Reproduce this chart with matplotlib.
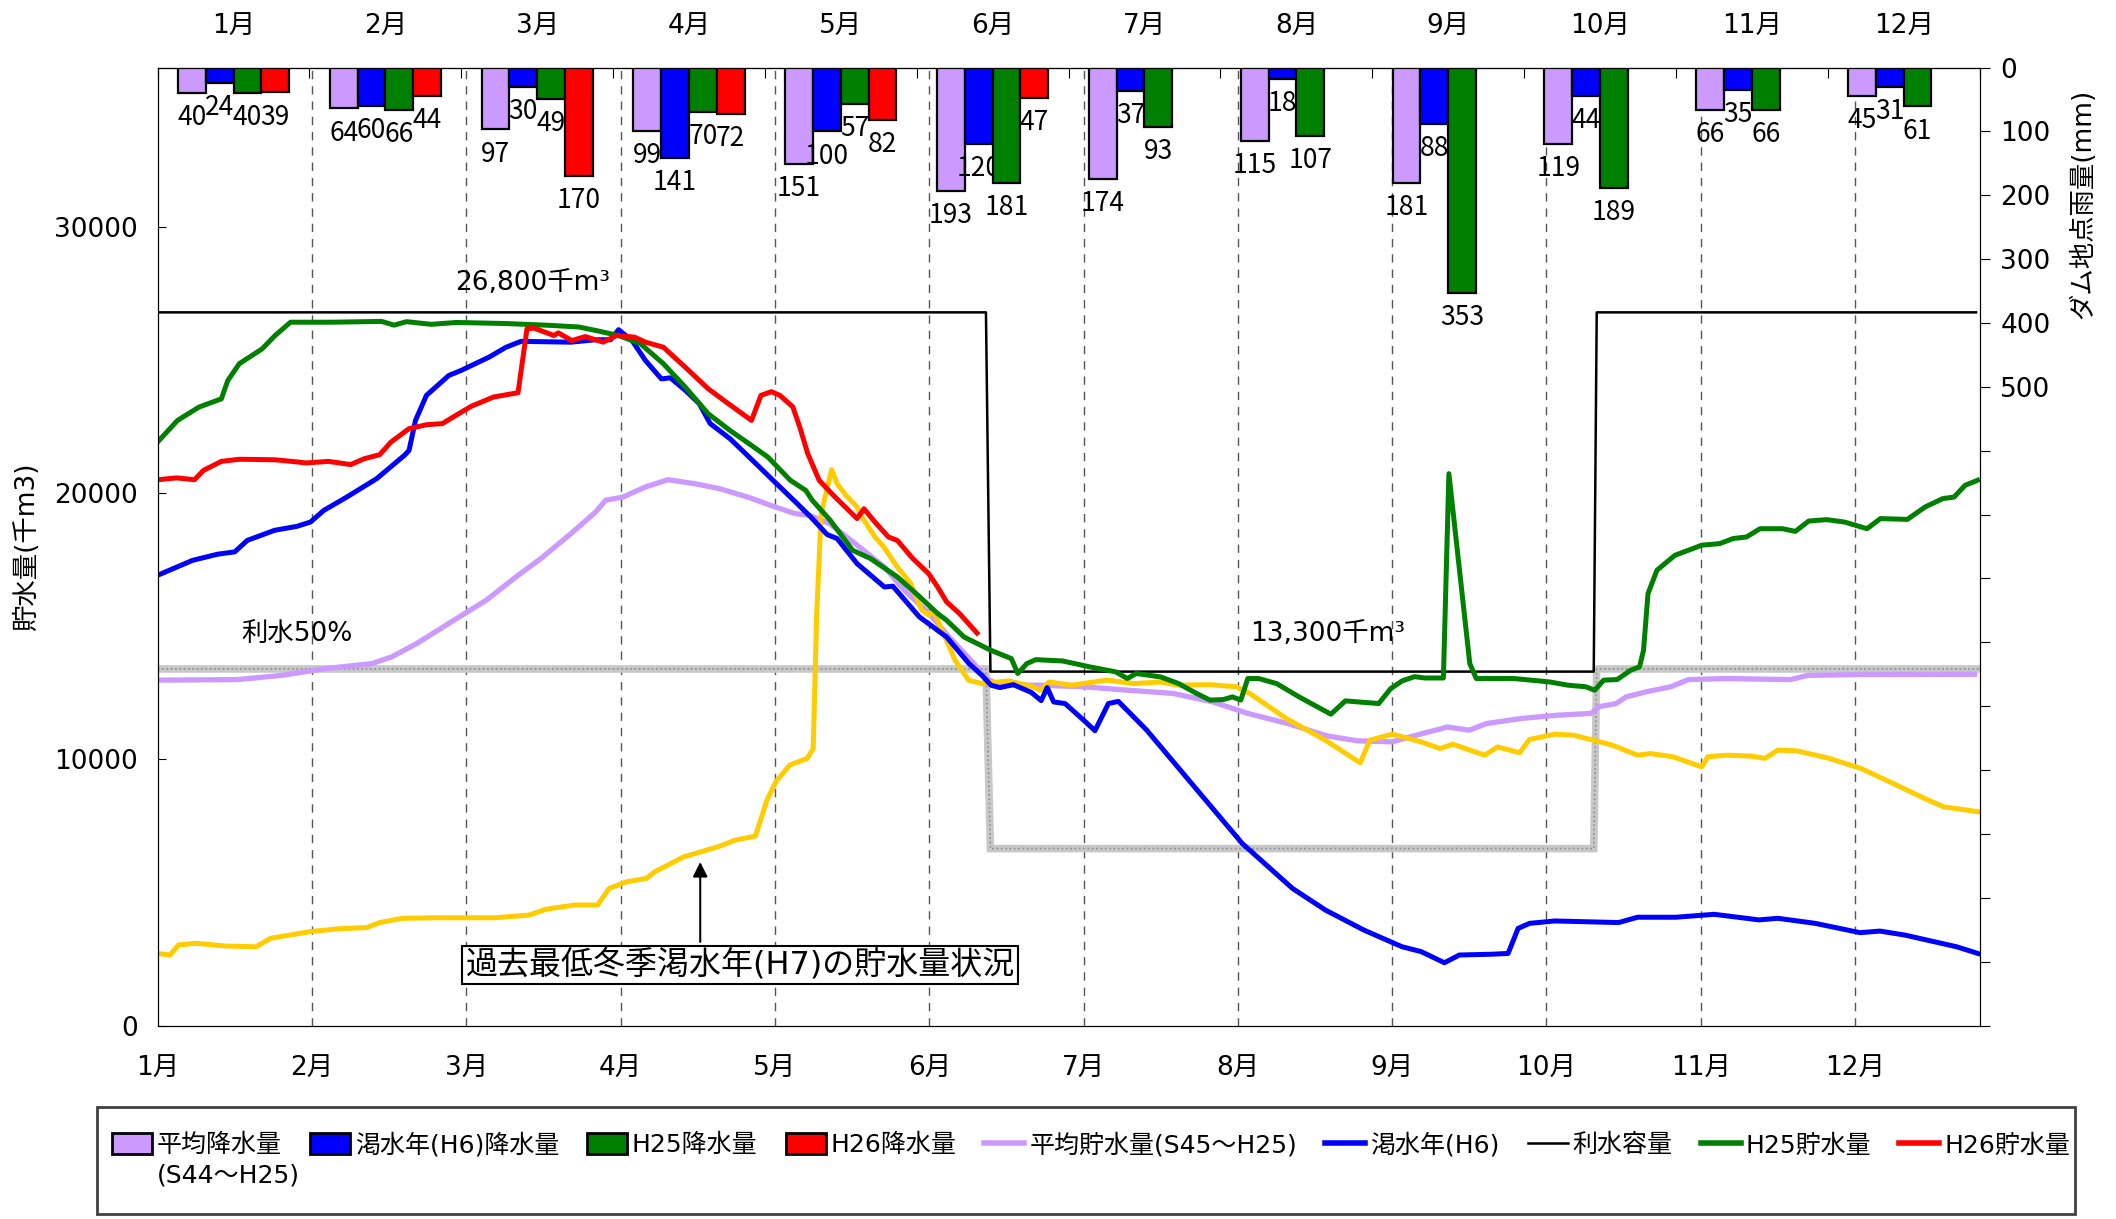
import matplotlib
matplotlib.use("Agg")
import matplotlib.pyplot as plt
from matplotlib.lines import Line2D
from matplotlib.patches import Patch, Rectangle
import numpy as np

plt.rcParams["font.family"] = ["DejaVu Sans", "Noto Sans CJK JP"]

# ---- monthly rainfall at the dam (mm) ----
months = ["1月", "2月", "3月", "4月", "5月", "6月", "7月", "8月", "9月", "10月", "11月", "12月"]
rain_avg = [40, 64, 97, 99, 151, 193, 174, 115, 181, 119, 66, 45]
rain_h6 = [24, 60, 30, 141, 100, 120, 37, 18, 88, 44, 35, 31]
rain_h25 = [40, 66, 49, 70, 57, 181, 93, 107, 353, 189, 66, 61]
rain_h26 = [39, 44, 170, 72, 82, 47]

# ---- storage (1000 m3), day of year ----
avg_days = [0, 16, 25, 34, 43, 47, 52, 59, 66, 72, 77, 83, 88, 90, 93.5, 98, 102.5, 108, 113,
            119, 124, 128, 131, 135, 141, 146, 150, 155, 159, 164, 166, 169, 177, 186, 195,
            204, 212, 219, 227, 235, 241, 248, 254, 258, 259, 263.5, 267, 274, 281, 288,
            289.5, 293, 295, 299, 304, 307.5, 315, 328, 331.5, 342, 365]
avg_vals = [12980, 13000, 13160, 13420, 13600, 13850, 14350, 15170, 15980, 16860, 17550, 18480,
            19300, 19740, 19860, 20240, 20510, 20360, 20170, 19830, 19490, 19240, 19170, 18860,
            17980, 17230, 16360, 15480, 14600, 13600, 13100, 12790, 12790, 12730, 12600, 12480,
            12160, 11730, 11350, 10880, 10700, 10660, 10970, 11160, 11220, 11100, 11350, 11540,
            11660, 11730, 11980, 12100, 12350, 12540, 12730, 13000, 13040, 13000, 13160, 13190,
            13200]

h6_days = [0, 7, 12, 15.5, 18, 23.5, 28, 30.7, 33.4, 38, 44, 49.6, 50.5, 51.8, 54, 58.5, 61,
           66.6, 70, 73, 83, 88, 91, 92.6, 95.3, 98, 101.2, 103, 106, 108.8, 111, 115, 119.5,
           124, 128.5, 131.2, 134.5, 136.5, 140.5, 146, 147.7, 153, 158.5, 163, 165.6, 167.4,
           169.2, 171.9, 175.5, 177.5, 178.7, 180, 182.3, 186, 188.3, 191, 193, 198.7, 207.7,
           217.9, 228, 234.6, 242.3, 250, 253.8, 258.5, 261.5, 268, 271.3, 273.3, 275.6, 280.7,
           293.5, 297.3, 305, 312.7, 321.7, 325.5, 333, 342, 346, 351, 361.4, 366]
h6_vals = [16920, 17480, 17710, 17800, 18230, 18610, 18760, 18920, 19360, 19860, 20550, 21430,
           21610, 22740, 23680, 24430, 24620, 25120, 25490, 25710, 25680, 25770, 25770, 26150,
           25740, 24990, 24300, 24340, 23870, 23370, 22620, 22050, 21240, 20420, 19610, 19110,
           18450, 18300, 17360, 16480, 16510, 15360, 14600, 13600, 13160, 12790, 12700, 12810,
           12520, 12210, 12700, 12160, 12100, 11480, 11080, 12100, 12180, 11100, 9100, 6840,
           5150, 4340, 3590, 2960, 2780, 2360, 2650, 2680, 2710, 3650, 3840, 3930, 3870, 4070,
           4070, 4180, 3970, 4030, 3840, 3490, 3550, 3400, 2960, 2690]

h25_days = [0, 4, 8.3, 12.8, 14.1, 16.4, 21, 23.6, 26.7, 35, 45, 47.5, 50, 55, 60, 65, 70, 79,
            84.6, 88, 92.6, 97, 101.6, 106, 110.6, 115, 119.3, 122.6, 127.1, 130.2, 131.5, 135.1,
            139.6, 143.2, 148.6, 153.1, 156.7, 158.5, 162, 167.4, 171.5, 172.8, 174.6, 176.4,
            181.8, 187.2, 192.5, 194.8, 196.6, 201.5, 205.1, 208.7, 211.4, 214.1, 215.9, 217.6,
            219, 221.2, 224.8, 229.3, 235.7, 238.6, 245.3, 247.7, 250, 252.5, 254.6, 258.3,
            259.4, 263.6, 264.9, 272.5, 279.7, 283.3, 286.9, 288.7, 290.5, 293.2, 295.9, 297.7,
            298.5, 299.4, 301.2, 304.8, 307.5, 310.2, 313.8, 316.5, 319.2, 321.9, 326.4, 329,
            331.7, 335.3, 338.9, 343.4, 346.1, 351.5, 355.1, 358.6, 360.9, 363.1, 365.6]
h25_vals = [21930, 22740, 23240, 23550, 24240, 24870, 25430, 25930, 26430, 26430, 26460, 26320,
            26450, 26350, 26420, 26400, 26380, 26310, 26250, 26120, 25930, 25620, 24870, 23990,
            22990, 22360, 21800, 21360, 20490, 20110, 19740, 18990, 17860, 17550, 16860, 16110,
            15480, 15230, 14600, 14100, 13790, 13230, 13600, 13750, 13700, 13480, 13290, 13040,
            13230, 13100, 12850, 12480, 12230, 12250, 12350, 12230, 13040, 13040, 12850, 12350,
            11700, 12200, 12100, 12660, 12950, 13110, 13060, 13060, 20740, 13600, 13040, 13040,
            12910, 12790, 12730, 12600, 12980, 13000, 13350, 13480, 14100, 16230, 17110, 17670,
            17860, 18050, 18110, 18300, 18360, 18670, 18670, 18570, 18960, 19010, 18920, 18670,
            19050, 19020, 19490, 19800, 19860, 20300, 20490]

h26_days = [0, 3.8, 7.4, 9.2, 12.8, 16.4, 23.6, 28, 29.8, 34.3, 38.8, 41.5, 44.6, 46.9, 50.5,
            54.1, 57.2, 59.4, 63, 67.5, 72.4, 74.2, 75.6, 79.6, 80.5, 83.2, 85.9, 89.5, 92.2,
            95.8, 98, 101.6, 106.1, 110.6, 114.2, 119.3, 121.2, 123.3, 125, 127.6, 129, 130.6,
            132.9, 135.4, 140.5, 141.9, 144.1, 146.8, 148.6, 151.7, 154.9, 156.7, 158.5, 161.1,
            164.6]
h26_vals = [20510, 20580, 20510, 20860, 21200, 21280, 21260, 21180, 21140, 21200, 21080, 21300,
            21450, 21930, 22430, 22580, 22620, 22870, 23270, 23620, 23780, 26180, 26210, 25930,
            26030, 25740, 25890, 25680, 25930, 25870, 25680, 25490, 24720, 23930, 23430, 22740,
            23680, 23820, 23680, 23250, 22490, 21490, 20490, 19990, 19050, 19420, 18920, 18360,
            18230, 17550, 16980, 16480, 15920, 15480, 14750]

h7_days = [0, 2.5, 4.2, 7.7, 13.5, 19.8, 22.7, 30.7, 36.5, 42, 44.6, 49.2, 56, 67.7, 74.6, 78,
           83.8, 88.4, 90.7, 94.2, 98.2, 99.9, 105.7, 112.6, 116.1, 120.1, 122.4, 124.2, 127,
           130.5, 131.7, 132.4, 133.3, 135.4, 136.5, 138.3, 140.5, 141.9, 144.1, 145.9, 148.6,
           151.3, 153.5, 154.9, 155.8, 157.6, 160.2, 162.9, 165.6, 171, 175.5, 177.3, 179.1,
           183.6, 190.7, 196.1, 201.5, 205.1, 211.4, 216.7, 219.4, 226.7, 234.6, 241.6, 243.5,
           248, 253.8, 257.6, 260.2, 266.6, 269.2, 273.6, 275.6, 280.7, 284.5, 292.2, 297.3,
           299.9, 304.4, 310.2, 311.4, 315.3, 320.4, 322.9, 325.5, 329.4, 335.8, 342.2, 348.6,
           355, 358.8, 365.9]
h7_vals = [2710, 2650, 3030, 3090, 2990, 2960, 3280, 3530, 3640, 3680, 3870, 4030, 4050, 4050,
           4150, 4370, 4530, 4530, 5150, 5400, 5530, 5780, 6340, 6720, 6970, 7120, 8470, 9160,
           9790, 10040, 10410, 15480, 19240, 20890, 20360, 19920, 19490, 18990, 18360, 17980,
           17230, 16610, 15610, 15420, 15610, 14850, 13730, 12980, 12850, 12950, 12750, 12600,
           12910, 12790, 12980, 12850, 12910, 12790, 12810, 12730, 12480, 11540, 10720, 9870,
           10720, 10950, 10660, 10410, 10570, 10160, 10470, 10250, 10750, 10950, 10910, 10540,
           10160, 10220, 10100, 9720, 10100, 10160, 10120, 10040, 10350, 10320, 10040, 9660,
           9100, 8530, 8220, 8030]

# 利水容量 schedule
cap_days = [0, 166.4, 167.3, 288.5, 289.1, 365.3]
cap_vals = [26800, 26800, 13300, 13300, 26800, 26800]

c_purple = "#cc99ff"
c_blue = "#0000ff"
c_green = "#008000"
c_red = "#ff0000"
c_yellow = "#ffcc00"

fig = plt.figure(figsize=(21.16, 12.19), dpi=100)
ax = fig.add_axes([0.0745, 0.1587, 0.861, 0.7859])
ax.set_xlim(0, 366)
ax.set_ylim(0, 36000)

month_days = np.arange(12) * 31
for d in month_days[1:]:
    ax.axvline(d, color="#555555", lw=1.0, ls=(0, (6, 5)), zorder=0.5)

# 利水50% band
half_vals = np.array(cap_vals) * 0.5
ax.plot(cap_days[:-1] + [366], half_vals, color="#c8c8c8", lw=5.5, zorder=1,
        solid_joinstyle="miter")
ax.plot(cap_days[:-1] + [366], half_vals, color="#959595", lw=1.3, ls=(0, (1, 1.4)), zorder=1.1)

ax.plot(avg_days, avg_vals, color=c_purple, lw=3.8, zorder=2)
ax.plot(h7_days, h7_vals, color=c_yellow, lw=3.6, zorder=2.2)
ax.plot(h6_days, h6_vals, color=c_blue, lw=3.6, zorder=2.4)
ax.plot(cap_days, cap_vals, color="black", lw=1.8, zorder=2.5)
ax.plot(h25_days, h25_vals, color=c_green, lw=3.6, zorder=2.6)
ax.plot(h26_days, h26_vals, color=c_red, lw=3.6, zorder=2.8)

ax.set_xticks(month_days, months)
ax.set_yticks([0, 10000, 20000, 30000])
ax.tick_params(axis="x", direction="in", length=0, pad=22, labelsize=19)
ax.tick_params(axis="y", direction="in", length=6, pad=14, labelsize=19)
ax.tick_params(top=False)
ax.set_ylabel("貯水量(千m3)", fontsize=19, labelpad=10)

ax.text(75.4, 27900, "26,800千m³", fontsize=19, ha="center", va="center")
ax.text(235, 14700, "13,300千m³", fontsize=19, ha="center", va="center")
ax.text(28, 14700, "利水50%", fontsize=19, ha="center", va="center")

ax.annotate("", xy=(109, 6250), xytext=(109, 3040),
            arrowprops=dict(arrowstyle="-|>", color="black", lw=1.5, mutation_scale=22))
ax.text(117, 2280, "過去最低冬季渇水年(H7)の貯水量状況", fontsize=23, ha="center", va="center",
        bbox=dict(boxstyle="square,pad=0.1", fc="white", ec="black", lw=1.5), zorder=5)

# ---- rainfall bars on inverted right axis ----
ax2 = ax.twinx()
ax2.set_ylim(1500, 0)
cat_w = 366 / 12
centers = (np.arange(12) + 0.5) * cat_w
bw = 0.183 * cat_w
series = [(rain_avg, c_purple), (rain_h6, c_blue), (rain_h25, c_green), (rain_h26, c_red)]
for k, (vals, col) in enumerate(series):
    xs = centers[:len(vals)] + (k - 1.5) * bw
    ax2.bar(xs, vals, width=bw, color=col, edgecolor="black", lw=1.6, zorder=3)
    for x, v in zip(xs, vals):
        ax2.annotate(str(v), (x, v), xytext=(0, -8), textcoords="offset points",
                     ha="center", va="top", fontsize=19, family="Noto Sans CJK JP")

ticks_r = np.arange(0, 1600, 100)
ax2.set_yticks(ticks_r, [str(t) if t <= 500 else "" for t in ticks_r])
ax2.tick_params(axis="y", direction="out", length=7, pad=8, labelsize=19)
ax2.set_ylabel("ダム地点雨量(mm)", fontsize=19, rotation=90)
ax2.yaxis.set_label_coords(1.05, 0.858)

top = ax.secondary_xaxis("top")
top.set_xticks(np.arange(13) * cat_w)
top.set_xticklabels([])
top.set_xticks(centers, minor=True)
top.set_xticklabels(months, minor=True)
top.tick_params(which="major", direction="in", length=7)
top.tick_params(which="minor", length=0, pad=20, labelsize=19)

# ---- legend ----
handles = [
    Patch(facecolor=c_purple, edgecolor="black", lw=2),
    Patch(facecolor=c_blue, edgecolor="black", lw=2),
    Patch(facecolor=c_green, edgecolor="black", lw=2),
    Patch(facecolor=c_red, edgecolor="black", lw=2),
    Line2D([], [], color=c_purple, lw=4),
    Line2D([], [], color=c_blue, lw=4),
    Line2D([], [], color="black", lw=1.8),
    Line2D([], [], color=c_green, lw=4),
    Line2D([], [], color=c_red, lw=4),
]
labels = ["平均降水量", "渇水年(H6)降水量", "H25降水量", "H26降水量", "平均貯水量(S45～H25)",
          "渇水年(H6)", "利水容量", "H25貯水量", "H26貯水量"]
leg = fig.legend(handles, labels, loc="upper left", bbox_to_anchor=(0.048, 0.0, 0.935, 0.079),
                 mode="expand", ncol=9, frameon=False, fontsize=18, handlelength=1.6,
                 handleheight=0.9, handletextpad=0.2, columnspacing=0.3, borderaxespad=0)
fig.patches.append(Rectangle((0.0458, 0.004), 0.935, 0.088, transform=fig.transFigure,
                             fill=False, edgecolor="#404040", lw=2))

fig.canvas.draw()
bb = leg.get_texts()[0].get_window_extent().transformed(fig.transFigure.inverted())
fig.text(bb.x0, bb.y0 - 0.005, "(S44～H25)", fontsize=18, ha="left", va="top")

fig.savefig("out.png", dpi=100)
